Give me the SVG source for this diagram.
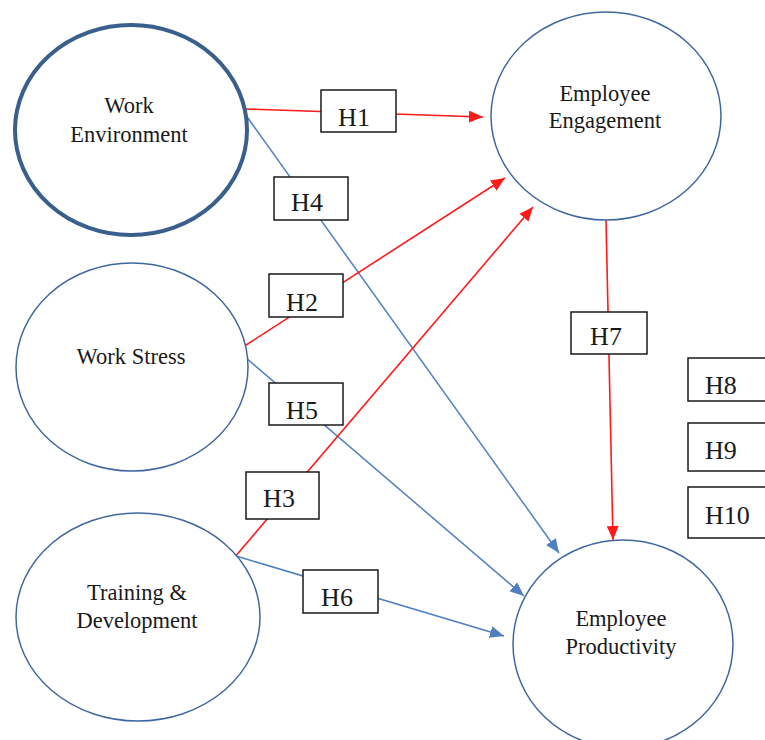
<svg xmlns="http://www.w3.org/2000/svg" width="765" height="740" viewBox="0 0 765 740">
<style>
.node ellipse{fill:#fff;stroke:#3f66a0;stroke-width:1.5}
.node text{font-family:'Liberation Serif','DejaVu Serif',serif;font-size:22.5px;fill:#1a1a1a;text-anchor:middle}
.box rect{fill:#fff;stroke:#1a1a1a;stroke-width:1.5}
.box text{font-family:'Liberation Serif','DejaVu Serif',serif;font-size:26px;fill:#1a1a1a;text-anchor:middle}
.red{stroke:#ff1a1a;stroke-width:1.6;fill:none}
.blue{stroke:#4f7fbf;stroke-width:1.5;fill:none}
</style>
<defs>
<marker id="ar" markerUnits="userSpaceOnUse" markerWidth="14" markerHeight="12" refX="14" refY="6" orient="auto"><path d="M0,0 L14,6 L0,12 z" fill="#ff1a1a"/></marker>
<marker id="ab" markerUnits="userSpaceOnUse" markerWidth="14" markerHeight="12" refX="14" refY="6" orient="auto"><path d="M0,0 L14,6 L0,12 z" fill="#4f7fbf"/></marker>
</defs>
<rect width="765" height="740" fill="#fff"/>
<g id="connectors">
<line class="red" x1="245" y1="109" x2="483" y2="117" marker-end="url(#ar)"/>
<line class="blue" x1="245" y1="114" x2="559" y2="553" marker-end="url(#ab)"/>
<line class="red" x1="243" y1="347" x2="505" y2="178" marker-end="url(#ar)"/>
<line class="blue" x1="245" y1="357" x2="524" y2="596" marker-end="url(#ab)"/>
<line class="red" x1="234" y1="558" x2="533" y2="207" marker-end="url(#ar)"/>
<line class="blue" x1="236" y1="556" x2="504" y2="636" marker-end="url(#ab)"/>
<line class="red" x1="606" y1="220" x2="613" y2="540" marker-end="url(#ar)"/>
</g>
<g id="work-environment" class="node"><ellipse cx="131" cy="130" rx="116" ry="105" style="stroke:#3a5f8c;stroke-width:4"/><text x="129" y="113" font-family="Liberation Serif">Work</text><text x="129" y="142" font-family="Liberation Serif">Environment</text></g>
<g id="employee-engagement" class="node"><ellipse cx="606" cy="116" rx="115" ry="104"/><text x="605" y="101">Employee</text><text x="605" y="128">Engagement</text></g>
<g id="work-stress" class="node"><ellipse cx="132" cy="367" rx="116" ry="104"/><text x="131" y="364">Work Stress</text></g>
<g id="training-development" class="node"><ellipse cx="138" cy="617" rx="122" ry="104"/><text x="137" y="600">Training &amp;</text><text x="137" y="628">Development</text></g>
<g id="employee-productivity" class="node"><ellipse cx="623" cy="644" rx="110" ry="104"/><text x="621" y="626">Employee</text><text x="621" y="654">Productivity</text></g>
<g id="h1" class="box"><rect x="321" y="90" width="75" height="42"/><text x="354" y="126">H1</text></g>
<g id="h4" class="box"><rect x="274" y="177" width="74" height="43"/><text x="307" y="211">H4</text></g>
<g id="h2" class="box"><rect x="269" y="274" width="74" height="43"/><text x="302" y="311">H2</text></g>
<g id="h5" class="box"><rect x="269" y="383" width="74" height="42"/><text x="302" y="419">H5</text></g>
<g id="h3" class="box"><rect x="246" y="472" width="73" height="47"/><text x="279" y="507">H3</text></g>
<g id="h6" class="box"><rect x="303" y="570" width="75" height="43"/><text x="337" y="606">H6</text></g>
<g id="h7" class="box"><rect x="571" y="312" width="76" height="42"/><text x="606" y="345">H7</text></g>
<g id="h8" class="box"><rect x="688" y="358" width="80" height="43"/><text x="705" y="394" style="text-anchor:start">H8</text></g>
<g id="h9" class="box"><rect x="688" y="423" width="80" height="48"/><text x="705" y="459" style="text-anchor:start">H9</text></g>
<g id="h10" class="box"><rect x="688" y="487" width="80" height="51"/><text x="705" y="524" style="text-anchor:start">H10</text></g>
</svg>
